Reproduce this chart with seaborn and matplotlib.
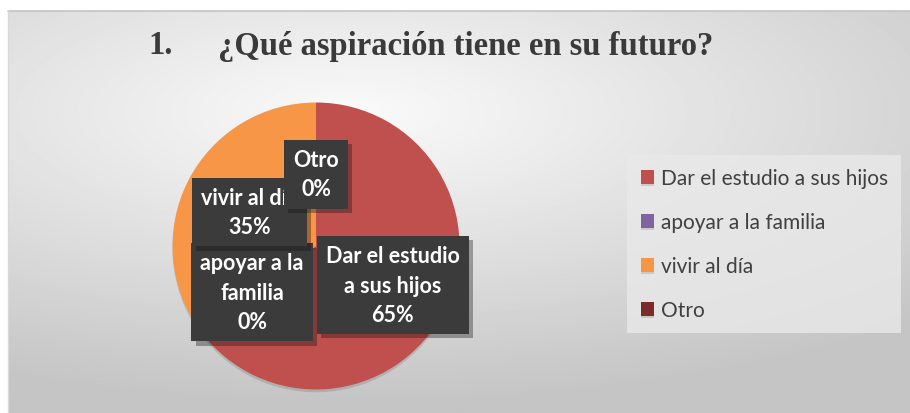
import numpy as np
import matplotlib
matplotlib.use("Agg")
import matplotlib.pyplot as plt
import matplotlib.patheffects as pe
import seaborn as sns

# chart data
categories = ["Dar el estudio a sus hijos", "apoyar a la familia", "vivir al día", "Otro"]
box_labels = ["Dar el estudio\na sus hijos", "apoyar a la\nfamilia", "vivir al día", "Otro"]
percent = [65, 0, 35, 0]
colors = ["#C0504D", "#8064A2", "#F79646", "#7B2C2A"]

sns.set_theme(style="white")
plt.rcParams["font.family"] = ["Lato", "DejaVu Sans"]

fig = plt.figure(figsize=(9.1, 4.14), dpi=100)
fig.patch.set_facecolor("white")

# gray radial gradient behind the chart
bg = fig.add_axes([8 / 910, 0, 902 / 910, 402 / 414])
yy, xx = np.mgrid[0:1:300j, 0:1:600j]
r = np.sqrt(((xx - 0.38) / 1.0) ** 2 + ((yy - 0.25) / 0.8) ** 2)
shade = np.clip(0.98 - 0.23 * r, 0.77, 1.0)
bg.imshow(shade, cmap="gray", vmin=0, vmax=1, aspect="auto", extent=[0, 1, 1, 0])
bg.axis("off")
fig.add_artist(plt.Line2D([8 / 910, 1], [402 / 414, 402 / 414], color="#c4c4c4", lw=1.2))
fig.add_artist(plt.Line2D([8 / 910, 8 / 910], [0, 402 / 414], color="#d8d8d8", lw=1.0))

# title
fig.text(148 / 910, 1 - 46 / 414, "1.", fontsize=23.5, fontweight="bold",
         family="Liberation Serif", color="#3a3a3a", va="center", ha="left")
fig.text(218 / 910, 1 - 46 / 414, "¿Qué aspiración tiene en su futuro?", fontsize=23.5,
         fontweight="bold", family="Liberation Serif", color="#3a3a3a",
         va="center", ha="left")

# pie
ax = fig.add_axes([(316 - 143.5) / 910, (167 - 143.5) / 414, 287 / 910, 287 / 414])
wedges, _ = ax.pie(percent, colors=colors, startangle=90, counterclock=False,
                   radius=1, wedgeprops=dict(linewidth=0))
for w in wedges:
    w.set_path_effects([pe.SimplePatchShadow(offset=(0, -2), alpha=0.12, shadow_rgbFace="black"),
                        pe.Normal()])
ax.set_xlim(-1, 1)
ax.set_ylim(-1, 1)
ax.set_aspect("equal")
ax.axis("off")

# data labels (dark boxes) at wedge midpoints
dist = [0.6, 0.55, 0.52, 0.5]
for i, w in enumerate(wedges):
    mid = np.deg2rad((w.theta1 + w.theta2) / 2)
    x, y = dist[i] * np.cos(mid), dist[i] * np.sin(mid)
    t = ax.text(x, y, f"{box_labels[i]}\n{percent[i]}%", ha="center", va="center",
                color="white", fontsize=15.5, fontweight="bold", linespacing=1.5,
                zorder=5 + i,
                bbox=dict(boxstyle="square,pad=0.42", fc="#3b3b3b", ec="none"))
    t.get_bbox_patch().set_path_effects(
        [pe.SimplePatchShadow(offset=(3, -3), alpha=0.35), pe.Normal()])

# legend
leg = fig.legend(wedges, categories, loc="center left",
                 bbox_to_anchor=(617 / 910, 1 - 245 / 414), fontsize=15,
                 handlelength=0.65, handleheight=0.65, handletextpad=0.3,
                 labelspacing=1.15, borderpad=0.65, frameon=True, fancybox=False)
leg.get_frame().set_facecolor("#e9e9e9")
leg.get_frame().set_edgecolor("none")
for txt in leg.get_texts():
    txt.set_color("#404040")

fig.savefig("out.png", dpi=100)
